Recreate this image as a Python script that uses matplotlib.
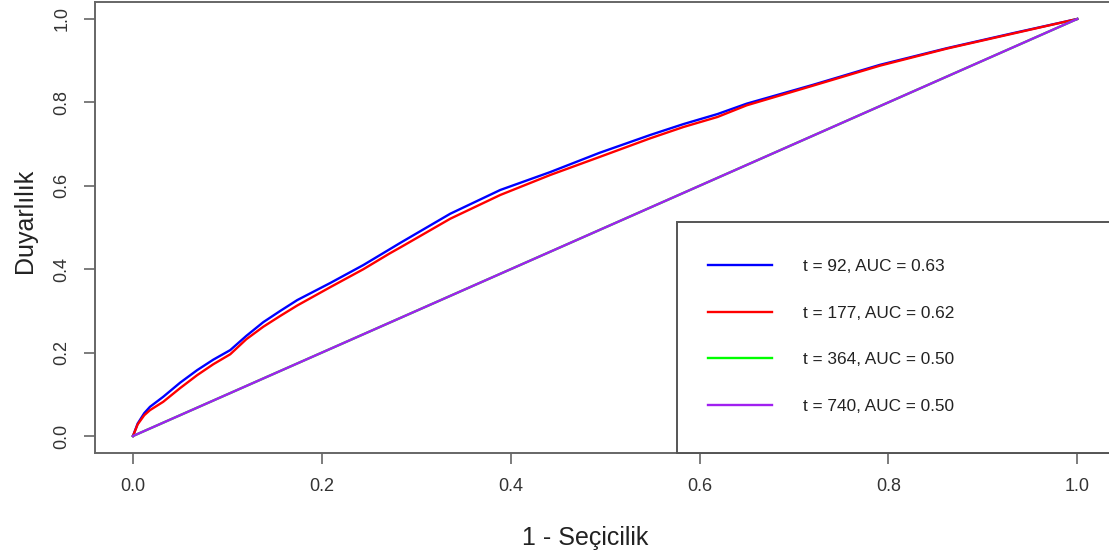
import numpy as np
import matplotlib.pyplot as plt
from matplotlib.patches import Rectangle

plt.rcParams['font.family'] = ['Liberation Sans', 'DejaVu Sans']

# ROC curves (1 - specificity, sensitivity)
fpr_92 = [0.0, 0.005, 0.012, 0.018, 0.032, 0.050, 0.068, 0.085, 0.103, 0.120, 0.138,
          0.156, 0.174, 0.209, 0.244, 0.272, 0.283, 0.336, 0.389, 0.442, 0.494, 0.548,
          0.583, 0.619, 0.650, 0.720, 0.791, 0.862, 0.932, 1.0]
tpr_92 = [0.0, 0.030, 0.055, 0.070, 0.094, 0.128, 0.158, 0.183, 0.206, 0.240, 0.273,
          0.300, 0.326, 0.367, 0.410, 0.448, 0.463, 0.533, 0.590, 0.633, 0.679, 0.722,
          0.748, 0.772, 0.797, 0.842, 0.890, 0.930, 0.966, 1.0]

fpr_177 = [0.0, 0.005, 0.012, 0.018, 0.032, 0.050, 0.068, 0.085, 0.103, 0.120, 0.138,
           0.156, 0.174, 0.209, 0.244, 0.272, 0.283, 0.336, 0.389, 0.442, 0.494, 0.548,
           0.583, 0.619, 0.650, 0.720, 0.791, 0.862, 0.932, 1.0]
tpr_177 = [0.0, 0.028, 0.050, 0.062, 0.082, 0.115, 0.146, 0.172, 0.196, 0.232, 0.262,
           0.288, 0.313, 0.357, 0.400, 0.438, 0.452, 0.521, 0.578, 0.626, 0.669, 0.714,
           0.741, 0.765, 0.793, 0.840, 0.888, 0.929, 0.965, 1.0]

fpr_364 = [0.0, 1.0]
tpr_364 = [0.0, 1.0]
fpr_740 = [0.0, 1.0]
tpr_740 = [0.0, 1.0]

labels = ['t = 92, AUC = 0.63', 't = 177, AUC = 0.62',
          't = 364, AUC = 0.50', 't = 740, AUC = 0.50']
colors = ['#0000FF', '#FF0000', '#00FF00', '#A020F0']

W, H = 1109, 557
fig = plt.figure(figsize=(W / 100, H / 100), dpi=100)
ax = fig.add_axes([95.2 / W, (H - 452.7) / H, (1115 - 95.2) / W, (452.7 - 2.3) / H])

series = [(fpr_92, tpr_92), (fpr_177, tpr_177), (fpr_364, tpr_364), (fpr_740, tpr_740)]
for (x, y), c, lab in zip(series, colors, labels):
    ax.plot(x, y, color=c, lw=1.7, label=lab)

ax.set_xlim(-0.04, 1.04)
ax.set_ylim(-0.04, 1.04)
ticks = [0.0, 0.2, 0.4, 0.6, 0.8, 1.0]
ax.set_xticks(ticks)
ax.set_yticks(ticks)
ax.set_xticklabels([f'{t:.1f}' for t in ticks])
ax.set_yticklabels([f'{t:.1f}' for t in ticks], rotation=90, va='center')

for s in ax.spines.values():
    s.set_color('#666666')
    s.set_linewidth(1.4)
ax.spines['right'].set_visible(False)
ax.tick_params(direction='out', length=8, width=1.2, color='#666666',
               labelsize=13, labelcolor='#333333', pad=10)

ax.set_xlabel('1 - Seçicilik', fontsize=18, color='#222222')
ax.set_ylabel('Duyarlılık', fontsize=18, color='#222222')
ax.xaxis.set_label_coords((585 - 95.2) / (1115 - 95.2), -(538 - 452.7) / (452.7 - 2.3))
ax.yaxis.set_label_coords(-(95.2 - 25) / (1115 - 95.2), (452.7 - 221) / (452.7 - 2.3))
ax.xaxis.label.set_va('center')
ax.yaxis.label.set_va('center')

# legend box (R style, bottom-right, cut off at the right edge)
ax.add_patch(Rectangle((0.576, -0.04), 0.6, 0.553, facecolor='white',
                       edgecolor='#555555', lw=1.4, clip_on=False, zorder=3))
leg = ax.legend(loc='center left', bbox_to_anchor=(708 / W, (H - 336.5) / H),
                bbox_transform=fig.transFigure, frameon=False, fontsize=12.4,
                handlelength=3.7, handletextpad=1.8, labelspacing=1.85,
                borderpad=0, borderaxespad=0)
leg.set_zorder(4)
for t in leg.get_texts():
    t.set_color('#222222')

fig.savefig('out.png', dpi=100)
